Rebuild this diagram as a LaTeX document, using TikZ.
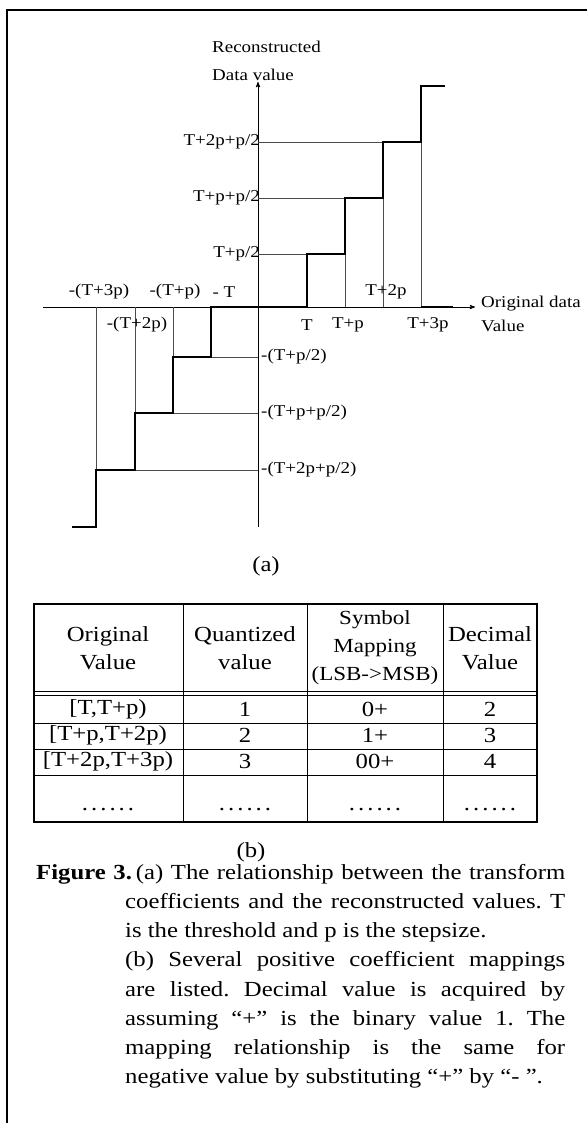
\documentclass[tikz,border=0pt]{standalone}
\usepackage{fontspec}
\setmainfont{Liberation Serif}[FakeStretch=1.15]
\usetikzlibrary{arrows,positioning}
\frenchspacing
\tikzset{
    %Define standard arrow tip
    >=stealth',
    %Define style for the staircase
    stair/.style={
           line width=2.4pt,
           line join=miter},
    guide/.style={
           line width=0.7pt,
           draw=black!70},
    axisline/.style={
           ->,
           line width=0.9pt},
    pageframe/.style={
           line width=2pt},
    %Define style for labels
    lbl/.style={
           font=\fontsize{16.5}{19}\selectfont,
           inner sep=0pt},
    cell/.style={
           font=\fontsize{21.5}{28}\selectfont,
           align=center,
           inner sep=0pt},
    caption/.style={
           font=\fontsize{21.5}{29.2}\selectfont,
           text width=529pt,
           align=justify,
           inner sep=0pt}
}

\begin{document}
\begin{tikzpicture}[x=1pt,y=-1pt]
\useasboundingbox (0,0) rectangle (587,1123);

 %frame
\draw[pageframe] (587,10) -- (7,10) -- (7,1123);

 %axes
\coordinate (O) at (258,307);
\coordinate (xs) at (43,307);
\coordinate (xe) at (475,307);
\coordinate (ys) at (258,527);
\coordinate (ye) at (258,82);
\draw[axisline] (xs) -- (xe);
\draw[axisline] (ys) -- (ye);

 %guides
\foreach \x/\y in {307/254, 345/198, 383/142}
    \draw[guide] (258,\y) -- (\x,\y);
\foreach \x/\y in {345/254, 383/198, 421/142}
    \draw[guide] (\x,307) -- (\x,\y);
\foreach \x/\y in {211/357, 173/413, 135/470}
    \draw[guide] (258,\y) -- (\x,\y);
\foreach \x/\y in {173/357, 135/413, 96/470}
    \draw[guide] (\x,307) -- (\x,\y);

 %staircase
\draw[stair] (O) -| (307,254) -| (345,198) -| (383,142) -| (421,86) -- (445,86);
\draw[stair] (O) -| (211,357) -| (173,413) -| (135,470) -| (96,527) -- (72,527);
\draw[line width=1.8pt] (421,307) -- (453,307);

 %axis titles
\node[lbl, anchor=west] (rec) at (212,47) {Reconstructed};
\node[lbl, anchor=west] (dat) at (212,75) {Data value};
\node[lbl, anchor=west] (orig) at (481,304) {Original data};
\node[lbl, anchor=west] (val) at (481,326) {Value};

 %level labels
\node[lbl, anchor=east] (l3) at (260,142) {T+2p+p/2};
\node[lbl, anchor=east] (l2) at (260,198) {T+p+p/2};
\node[lbl, anchor=east] (l1) at (260,254) {T+p/2};
\node[lbl, anchor=west] (m1) at (261,357) {-(T+p/2)};
\node[lbl, anchor=west] (m2) at (261,413) {-(T+p+p/2)};
\node[lbl, anchor=west] (m3) at (261,470) {-(T+2p+p/2)};

 %threshold labels
\node[lbl] (n3) at (99,292) {-(T+3p)};
\node[lbl] (n1) at (175,292) {-(T+p)};
\node[lbl] (n0) at (224,292) {- T};
\node[lbl] (p2) at (386,292) {T+2p};
\node[lbl] (n2) at (137,325) {-(T+2p)};
\node[lbl] (p0) at (307,325) {T};
\node[lbl] (p1) at (348,325) {T+p};
\node[lbl] (p3) at (428,325) {T+3p};

\node[cell] (suba) at (266,566) {(a)};

 %table
\draw[line width=1.2pt] (34,604) rectangle (537,822);
\foreach \x in {183,307,443}
    \draw[line width=1pt] (\x,604) -- (\x,822);
\foreach \y in {691,695,723,749,775}
    \draw[line width=0.9pt] (34,\y) -- (537,\y);

\node[cell] (h1) at (108,648) {Original\\Value};
\node[cell] (h2) at (245,648) {Quantized\\value};
\node[cell, font=\fontsize{20}{28}\selectfont] (h3) at (375,648) {Symbol\\Mapping\\(LSB->MSB)};
\node[cell] (h4) at (490,648) {Decimal\\Value};

\foreach \a/\b/\c/\d [count=\r] in {{[T,T+p)}/1/0+/2, {[T+p,T+2p)}/2/1+/3, {[T+2p,T+3p)}/3/00+/4}
{
    \node[cell] (r\r a) at (108,683+26*\r) {\a};
    \node[cell] (r\r b) at (245,683+26*\r) {\b};
    \node[cell] (r\r c) at (375,683+26*\r) {\c};
    \node[cell] (r\r d) at (490,683+26*\r) {\d};
}
\foreach \x [count=\i] in {108,245,375,490}
    \node[cell] (dots\i) at (\x,810) {.\hspace{3pt}.\hspace{3pt}.\hspace{3pt}.\hspace{3pt}.\hspace{3pt}.};

\node[cell] (subb) at (251,852) {(b)};

 %caption
\node[caption, anchor=north west] (cap) at (36,864) {%
\hangindent=89pt\hangafter=1\textbf{Figure 3.}\hspace{4pt}(a) The relationship between the transform\linebreak
coefficients and the reconstructed values. T\linebreak
is the threshold and p is the stepsize.\par
\hangindent=89pt\hangafter=0 (b) Several positive coefficient mappings\linebreak
are listed. Decimal value is acquired by\linebreak
assuming ``+'' is the binary value 1. The\linebreak
mapping relationship is the same for\linebreak
negative value by substituting ``+'' by ``-~''.\par};

\end{tikzpicture}
\end{document}
